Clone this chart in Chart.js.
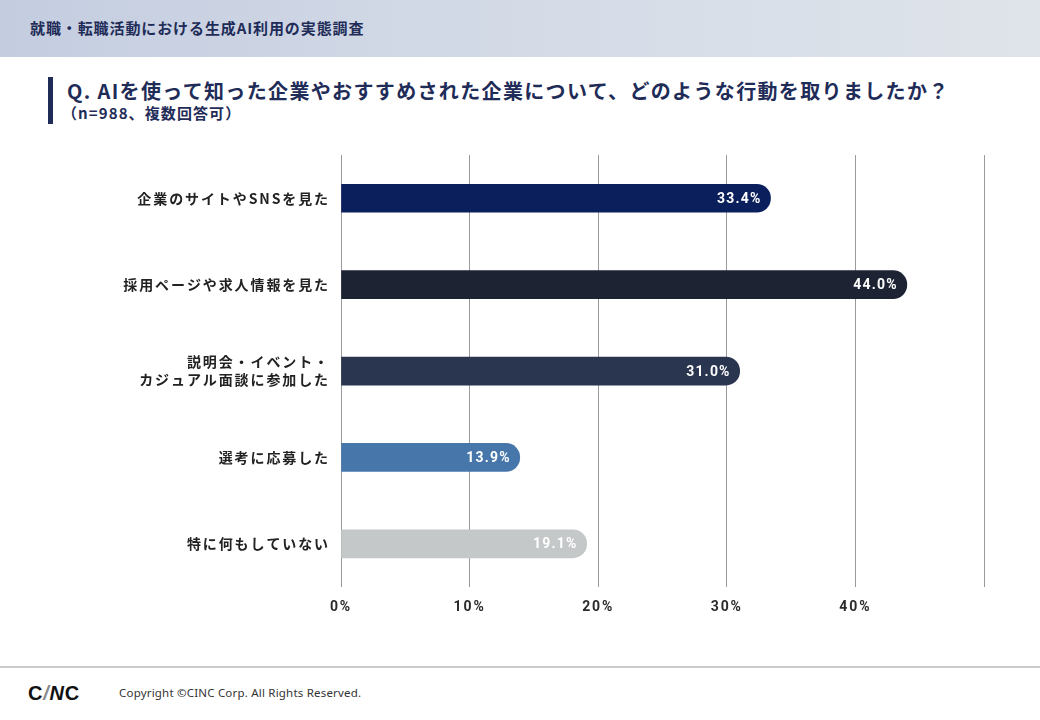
<!DOCTYPE html>
<html lang="ja">
<head>
<meta charset="utf-8">
<script src="https://cdn.jsdelivr.net/npm/chart.js@4.4.1/dist/chart.umd.min.js"></script>
<style>
  html, body { margin: 0; padding: 0; background: #fff; }
  body { width: 1040px; height: 720px; position: relative; overflow: hidden;
         font-family: "Noto Sans CJK JP", "Noto Sans", sans-serif; }
  .header { position: absolute; left: 0; top: 0; width: 1040px; height: 57px;
            background: linear-gradient(90deg, #c4cde0 0%, #d4dbe7 50%, #dfe4ea 100%); }
  .header span { position: absolute; left: 30px; top: 17px; font-size: 15px; font-weight: 700;
                 color: #1f2c58; letter-spacing: 0.9px; }
  .accent { position: absolute; left: 48px; top: 77px; width: 5px; height: 47px; background: #1f2c58; }
  .title { position: absolute; left: 67px; top: 76px; font-size: 20px; font-weight: 700;
           color: #1f2c58; letter-spacing: 1.35px; line-height: 30px; white-space: nowrap; }
  .sub { position: absolute; left: 62px; top: 103px; font-size: 15px; font-weight: 700;
         color: #1f2c58; letter-spacing: 1.1px; line-height: 20px; }
  .footline { position: absolute; left: 0; top: 666px; width: 1040px; height: 2px; background: #cbcbcb; }
  .logo { position: absolute; left: 28px; top: 680px; font-family: "Liberation Sans", Arial, sans-serif;
          font-weight: 700; font-size: 20px; color: #111; letter-spacing: 0.8px; line-height: 26px; }
  .logo .sl { color: #8a8a8a; font-style: italic; }
  .logo .n { font-style: italic; }
  .copy { position: absolute; left: 119px; top: 684px; font-family: "Noto Sans", sans-serif;
          font-size: 11.5px; color: #333; line-height: 18px; letter-spacing: 0.2px; }
  #wrap { position: absolute; left: 0; top: 135px; width: 1040px; height: 490px; }
</style>
</head>
<body>
<div class="header"><span>就職・転職活動における生成AI利用の実態調査</span></div>
<div class="accent"></div>
<div class="title">Q. AIを使って知った企業やおすすめされた企業について、どのような行動を取りましたか？</div>
<div class="sub">（n=988、複数回答可）</div>
<div id="wrap"><canvas id="mychart" width="1040" height="490"></canvas></div>
<div class="footline"></div>
<div class="logo">C<span class="sl">/</span><span class="n">N</span>C</div>
<div class="copy">Copyright ©CINC Corp. All Rights Reserved.</div>

<script>
// 項目ラベル (2行目のあるものは配列)
const categories = [
    '企業のサイトやSNSを見た',
    '採用ページや求人情報を見た',
    ['説明会・イベント・', 'カジュアル面談に参加した'],
    '選考に応募した',
    '特に何もしていない'
];
const values = [33.4, 44.0, 31.0, 13.9, 19.1];
const barColors = ['#0b1f5d', '#1e2333', '#2a354f', '#4777aa', '#c5c8c8'];
const xTicks = [0, 10, 20, 30, 40, 50];

const spacing = {
    id: 'spacing',
    beforeDraw(chart) {
        chart.ctx.letterSpacing = '1.9px';
    }
};

// バー右端の内側に数値を置く
const valueLabels = {
    id: 'valueLabels',
    afterDatasetsDraw(chart) {
        const { ctx } = chart;
        const meta = chart.getDatasetMeta(0);
        ctx.save();
        ctx.letterSpacing = '1.2px';
        ctx.font = '700 14px Roboto, "Noto Sans", sans-serif';
        ctx.textAlign = 'right';
        ctx.textBaseline = 'middle';
        ctx.fillStyle = '#ffffff';
        meta.data.forEach((bar, i) => {
            ctx.fillText(values[i].toFixed(1) + '%', bar.x - 9, bar.y + 1);
        });
        ctx.restore();
    }
};

new Chart(document.getElementById('mychart'), {
    type: 'bar',
    plugins: [spacing, valueLabels],
    data: {
        labels: categories,
        datasets: [{
            data: values,
            backgroundColor: barColors,
            barThickness: 28,
            borderRadius: { topRight: 14, bottomRight: 14, topLeft: 0, bottomLeft: 0 },
            borderSkipped: false
        }]
    },
    options: {
        indexAxis: 'y',
        responsive: false,
        animation: false,
        layout: { padding: { top: 8, right: 56, left: 0, bottom: 0 } },
        plugins: {
            legend: { display: false },
            tooltip: { enabled: false }
        },
        scales: {
            x: {
                type: 'linear',
                min: 0,
                max: 50,
                afterBuildTicks(scale) {
                    scale.ticks = xTicks.map((v) => ({ value: v }));
                },
                afterFit(scale) {
                    scale.height = 38;
                },
                border: { display: false },
                grid: {
                    color: '#9a9a9a',
                    lineWidth: 1,
                    drawTicks: false
                },
                ticks: {
                    padding: 12,
                    color: '#2b2b2b',
                    font: { family: 'Roboto, "Noto Sans", sans-serif', size: 14, weight: '700' },
                    callback(value) {
                        return value === 50 ? '' : value + '%';
                    }
                }
            },
            y: {
                afterFit(scale) {
                    scale.width = 341;
                },
                border: { display: false },
                grid: { display: false, drawTicks: false },
                ticks: {
                    padding: 11,
                    color: '#222222',
                    font: { family: '"Noto Sans CJK JP", sans-serif', size: 14, weight: '700', lineHeight: 1.3 }
                }
            }
        }
    }
});
</script>
</body>
</html>
